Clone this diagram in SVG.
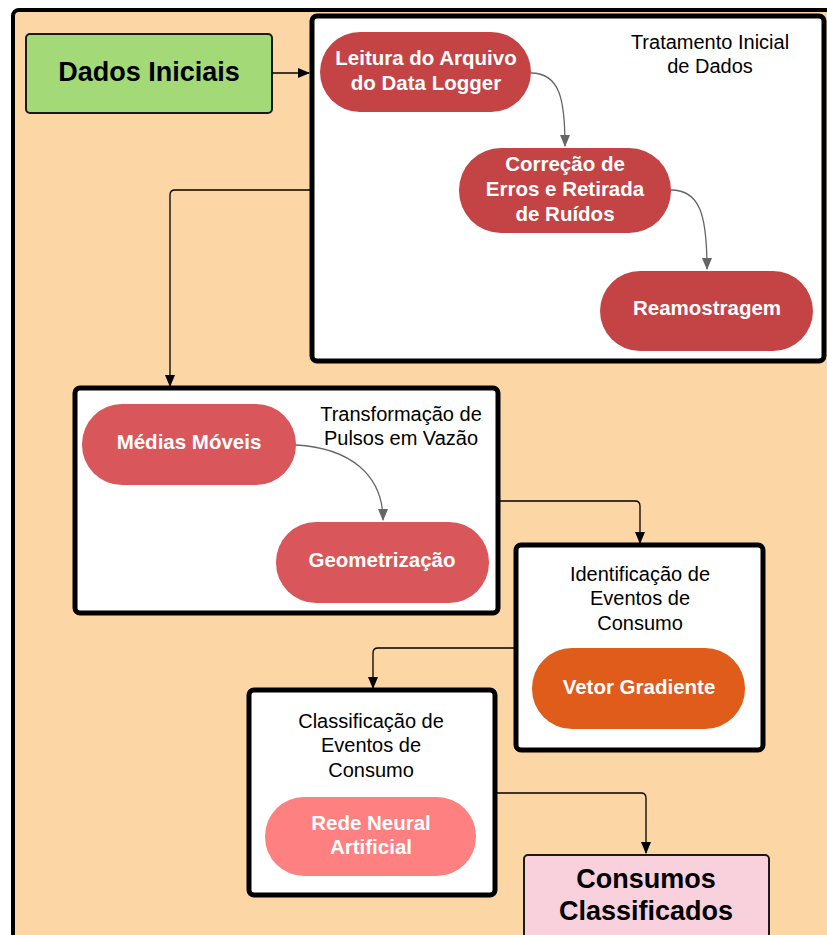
<svg xmlns="http://www.w3.org/2000/svg" width="827" height="935" viewBox="0 0 827 935">
  <defs>
    <marker id="arrowBlack" markerWidth="12" markerHeight="12" refX="11" refY="6" orient="auto" markerUnits="userSpaceOnUse">
      <path d="M0,1 L12,6 L0,11 Z" fill="#000"/>
    </marker>
    <marker id="arrowGray" markerWidth="12" markerHeight="12" refX="11" refY="6" orient="auto" markerUnits="userSpaceOnUse">
      <path d="M0,1 L12,6 L0,11 Z" fill="#666"/>
    </marker>
    <style>
      .frame { fill: #fff; stroke: #000; stroke-width: 5; }
      .title { font-family: "Liberation Sans", Arial, sans-serif; font-size: 20px; fill: #000; text-anchor: middle; }
      .pilltext { font-family: "Liberation Sans", Arial, sans-serif; font-size: 20.5px; font-weight: bold; fill: #fff; text-anchor: middle; }
      .bigtext { font-family: "Liberation Sans", Arial, sans-serif; font-size: 27px; font-weight: bold; fill: #000; text-anchor: middle; }
      .conn { fill: none; stroke: #000; stroke-width: 1.3; marker-end: url(#arrowBlack); }
      .curve { fill: none; stroke: #666; stroke-width: 1.3; marker-end: url(#arrowGray); }
    </style>
  </defs>

  <!-- background panel -->
  <rect x="13" y="10" width="830" height="940" rx="6" fill="#FDD6A6" stroke="#000" stroke-width="4"/>

  <g id="dados-iniciais">
    <rect x="26" y="34" width="246" height="79" rx="4" fill="#A3D977" stroke="#1a1a1a" stroke-width="2"/>
    <text class="bigtext" x="149" y="81">Dados Iniciais</text>
  </g>

  <g id="tratamento-inicial">
    <rect class="frame" x="312" y="16" width="512" height="345" rx="5"/>
    <text class="title" x="710" y="49">Tratamento Inicial</text>
    <text class="title" x="710" y="73">de Dados</text>
  </g>

  <g id="leitura">
    <rect x="320" y="32" width="211" height="80" rx="40" fill="#C44445"/>
    <text class="pilltext" x="426" y="65">Leitura do Arquivo</text>
    <text class="pilltext" x="426" y="90">do Data Logger</text>
  </g>

  <g id="correcao">
    <rect x="459" y="148" width="212" height="85" rx="42" fill="#C44445"/>
    <text class="pilltext" x="565" y="171">Correção de</text>
    <text class="pilltext" x="565" y="196">Erros e Retirada</text>
    <text class="pilltext" x="565" y="221">de Ruídos</text>
  </g>

  <g id="reamostragem">
    <rect x="600" y="271" width="213" height="80" rx="40" fill="#C44445"/>
    <text class="pilltext" x="707" y="315">Reamostragem</text>
  </g>

  <g id="transformacao">
    <rect class="frame" x="75" y="388" width="423" height="225" rx="5"/>
    <text class="title" x="401" y="421">Transformação de</text>
    <text class="title" x="401" y="445">Pulsos em Vazão</text>
  </g>

  <g id="medias-moveis">
    <rect x="82" y="404" width="214" height="81" rx="40" fill="#D9575A"/>
    <text class="pilltext" x="189" y="449">Médias Móveis</text>
  </g>

  <g id="geometrizacao">
    <rect x="276" y="522" width="213" height="81" rx="40" fill="#D9575A"/>
    <text class="pilltext" x="382" y="567">Geometrização</text>
  </g>

  <g id="identificacao">
    <rect class="frame" x="516" y="545" width="247" height="205" rx="5"/>
    <text class="title" x="640" y="581">Identificação de</text>
    <text class="title" x="640" y="605">Eventos de</text>
    <text class="title" x="640" y="630">Consumo</text>
  </g>

  <g id="vetor-gradiente">
    <rect x="532" y="648" width="213" height="81" rx="40" fill="#E05C1A"/>
    <text class="pilltext" x="639" y="694">Vetor Gradiente</text>
  </g>

  <g id="classificacao">
    <rect class="frame" x="249" y="690" width="246" height="205" rx="5"/>
    <text class="title" x="371" y="728">Classificação de</text>
    <text class="title" x="371" y="752">Eventos de</text>
    <text class="title" x="371" y="777">Consumo</text>
  </g>

  <g id="rede-neural">
    <rect x="265" y="797" width="211" height="79" rx="39" fill="#FF8080"/>
    <text class="pilltext" x="371" y="830">Rede Neural</text>
    <text class="pilltext" x="371" y="854">Artificial</text>
  </g>

  <g id="consumos-classificados">
    <rect x="524" y="855" width="245" height="90" rx="4" fill="#F8D1DC" stroke="#1a1a1a" stroke-width="2"/>
    <text class="bigtext" x="646" y="888">Consumos</text>
    <text class="bigtext" x="646" y="920">Classificados</text>
  </g>

  <g id="connectors">
    <path class="conn" d="M272,73 L309,73"/>
    <path class="conn" d="M310,190 L175,190 Q170,190 170,195 L170,386"/>
    <path class="conn" d="M498,501 L635,501 Q640,501 640,506 L640,543"/>
    <path class="conn" d="M516,648 L378,648 Q373,648 373,653 L373,688"/>
    <path class="conn" d="M495,793 L641,793 Q646,793 646,798 L646,853"/>
    <path class="curve" d="M531,73 C560,73 565,100 565,146"/>
    <path class="curve" d="M671,190 C700,190 707,215 707,269"/>
    <path class="curve" d="M296,445 C350,448 383,475 383,520"/>
  </g>
</svg>
